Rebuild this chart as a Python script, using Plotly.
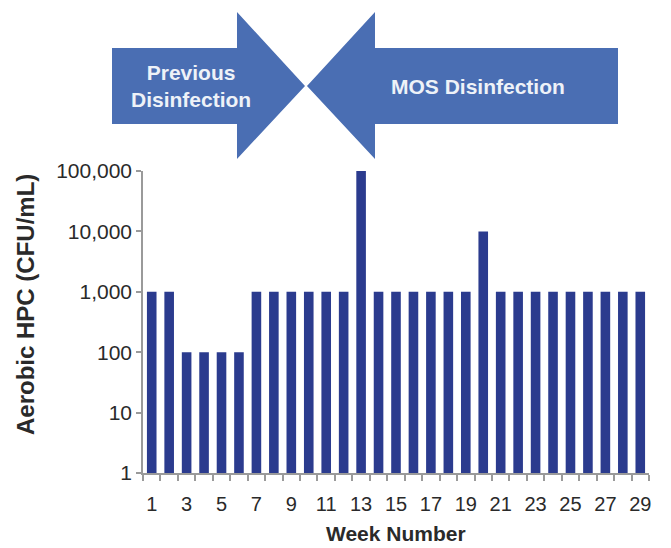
import plotly.graph_objects as go

# Weekly aerobic heterotrophic plate counts
weeks = list(range(1, 30))
hpc_cfu_ml = [1000, 1000, 100, 100, 100, 100, 1000, 1000, 1000, 1000,
              1000, 1000, 100000, 1000, 1000, 1000, 1000, 1000, 1000, 10000,
              1000, 1000, 1000, 1000, 1000, 1000, 1000, 1000, 1000]
week_tick_vals = list(range(1, 30, 2))
week_tick_text = [str(w) for w in week_tick_vals]
hpc_tick_vals = [1, 10, 100, 1000, 10000, 100000]
hpc_tick_text = ["1", "10", "100", "1,000", "10,000", "100,000"]
phase_labels = ["Previous<br>Disinfection", "MOS Disinfection"]

W, H = 671, 548
L, R, T, B = 143, 22, 171, 75
PW, PH = W - L - R, H - T - B

BAR = "#2b3b8e"
ARROW = "#4a6eb3"
AXIS = "#9a9a9a"
TXT = "#2a2a2a"
FONT = "Liberation Sans, Arial, sans-serif"


def px(x):
    return (x - L) / PW


def py(y):
    return (H - B - y) / PH


def poly(points):
    d = "M " + " L ".join(f"{px(x):.5f},{py(y):.5f}" for x, y in points) + " Z"
    return dict(type="path", path=d, xref="paper", yref="paper",
                fillcolor=ARROW, line=dict(width=0), layer="above")


def label(text, x, y, size, color=TXT, angle=0):
    return dict(text=text, x=px(x), y=py(y), xref="paper", yref="paper",
                xanchor="center", yanchor="middle", showarrow=False,
                textangle=angle, align="center",
                font=dict(size=size, color=color, family=FONT))


fig = go.Figure(go.Bar(
    x=weeks, y=hpc_cfu_ml, marker=dict(color=BAR, line=dict(width=0)),
    width=0.55, hoverinfo="x+y",
))

# Phase arrows pointing toward each other above the chart
left_arrow = [(112, 48), (237, 48), (237, 12), (305, 86), (237, 159), (237, 124), (112, 124)]
right_arrow = [(618, 48), (375, 48), (375, 12), (307, 86), (375, 159), (375, 124), (618, 124)]

fig.update_layout(
    width=W, height=H,
    margin=dict(l=L, r=R, t=T, b=B),
    paper_bgcolor="white", plot_bgcolor="white",
    showlegend=False,
    font=dict(family=FONT, color=TXT),
    shapes=[poly(left_arrow), poly(right_arrow)],
    annotations=[
        label("<b>" + phase_labels[0] + "</b>", 191, 86, 21, "#eef2f8"),
        label("<b>" + phase_labels[1] + "</b>", 478, 86, 21, "#eef2f8"),
        label("<b>Week Number</b>", 396, 533, 21),
        label("<b>Aerobic HPC (CFU/mL)</b>", 25, 305, 24, angle=-90),
    ],
    bargap=0.45,
)

fig.update_xaxes(
    range=[0.5, 29.5], tickmode="array", tickvals=week_tick_vals, ticktext=week_tick_text,
    ticks="", showline=True, linecolor=AXIS, linewidth=1.5, showgrid=False, zeroline=False,
    tickfont=dict(size=20, color=TXT), ticklabelstandoff=12,
    minor=dict(tickmode="array", tickvals=[w - 0.5 for w in weeks] + [29.5],
               ticks="outside", ticklen=6, tickcolor=AXIS, tickwidth=1.5, showgrid=False),
)
fig.update_yaxes(
    type="log", range=[0, 5], tickmode="array", tickvals=hpc_tick_vals, ticktext=hpc_tick_text,
    ticks="outside", ticklen=5, tickcolor=AXIS, tickwidth=1.5,
    showline=True, linecolor=AXIS, linewidth=1.5, showgrid=False, zeroline=False,
    tickfont=dict(size=21, color=TXT),
)

fig.write_html("out.html")
